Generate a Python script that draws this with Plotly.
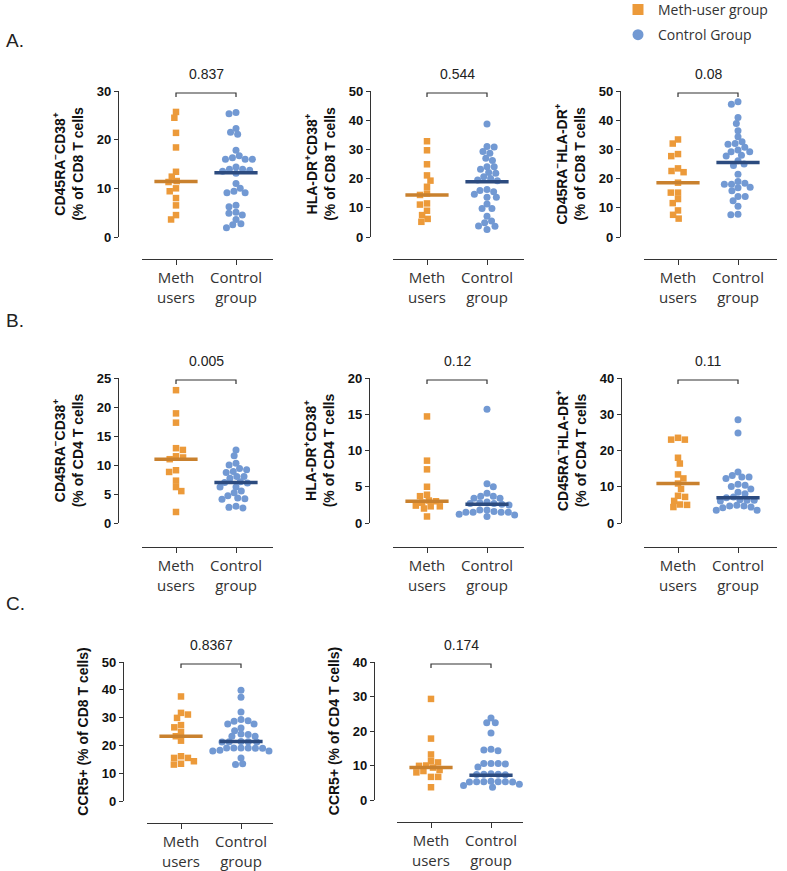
import numpy as np
import plotly.graph_objects as go

W, H = 787, 871

# ---------------- data ----------------
categories = ["Meth<br>users", "Control<br>group"]
legend_names = ["Meth-user group", "Control Group"]

a1_meth = [25.7, 24.5, 21.4, 18.4, 13.4, 12.4, 11.5, 11.3, 10.0, 9.4, 8.0, 6.5, 4.5, 3.6]
a1_ctrl = [25.6, 25.3, 22.3, 21.5, 21.1, 17.8, 16.7, 16.3, 16.0, 16.0, 16.0, 14.4, 13.9, 13.9,
           13.7, 13.5, 13.1, 11.0, 10.0, 9.4, 9.1, 9.1, 6.5, 6.2, 5.1, 4.9, 4.5, 3.6, 2.7, 2.5, 1.9]
a1_median = [11.4, 13.2]

a2_meth = [32.8, 29.7, 24.9, 21.1, 19.3, 17.2, 14.9, 14.4, 11.5, 11.1, 9.0, 7.5, 6.2, 5.2]
a2_ctrl = [38.7, 31.0, 30.8, 29.3, 28.7, 27.0, 26.2, 24.1, 24.1, 23.2, 22.1, 21.8, 20.6, 20.0,
           19.5, 19.3, 16.3, 15.9, 15.5, 14.6, 13.6, 13.6, 11.3, 9.8, 9.8, 7.1, 5.5, 4.9, 3.8,
           3.7, 2.6]
a2_median = [14.4, 18.9]

a3_meth = [33.4, 32.0, 28.4, 27.7, 23.5, 22.6, 22.2, 18.6, 15.2, 15.2, 13.0, 11.6, 9.1, 7.6, 6.3]
a3_ctrl = [46.3, 45.5, 40.9, 38.9, 36.4, 34.3, 32.6, 32.0, 31.8, 30.7, 29.8, 29.2, 29.2, 28.0,
           27.7, 26.1, 25.0, 24.5, 21.5, 19.0, 18.4, 18.1, 18.1, 17.0, 16.9, 15.8, 13.9, 13.9,
           12.4, 10.5, 7.8, 7.6]
a3_median = [18.6, 25.5]

b1_meth = [22.9, 18.9, 17.3, 12.9, 12.6, 11.5, 11.3, 11.0, 9.1, 8.8, 7.3, 6.2, 5.5, 1.9]
b1_ctrl = [12.6, 11.6, 10.3, 10.0, 9.4, 9.2, 8.9, 8.7, 8.0, 8.0, 7.7, 7.1, 7.0, 6.9,
           6.2, 6.2, 5.5, 5.2, 4.7, 4.3, 4.2, 4.1, 2.9, 2.7, 2.6]
b1_median = [11.0, 7.0]

b2_meth = [14.7, 8.6, 7.4, 5.0, 3.9, 3.7, 3.1, 3.0, 2.8, 2.4, 2.3, 2.3, 2.0, 0.9]
b2_ctrl = [15.7, 5.4, 5.0, 4.1, 3.7, 3.7, 3.4, 3.4, 2.9, 2.8, 2.7, 2.7, 2.6, 2.5, 1.8,
           1.8, 1.6, 1.5, 1.5, 1.5, 1.5, 1.2, 1.1, 0.9]
b2_median = [3.0, 2.6]

b3_meth = [23.5, 23.0, 23.0, 18.0, 16.4, 13.4, 12.3, 10.9, 9.4, 7.5, 7.2, 6.1, 5.1, 5.0, 4.4]
b3_ctrl = [28.5, 24.8, 14.1, 13.1, 12.7, 12.7, 12.3, 10.7, 10.4, 10.1, 9.4, 8.5, 8.1, 7.2, 7.0,
           6.4, 6.3, 6.3, 6.1, 4.9, 4.7, 4.7, 4.4, 4.2, 3.5, 3.5]
b3_median = [10.9, 7.0]

c1_meth = [37.6, 31.7, 31.1, 29.9, 27.3, 26.5, 24.8, 23.3, 21.7, 16.1, 15.5, 15.5, 14.3, 13.4, 13.1]
c1_ctrl = [39.8, 37.3, 32.0, 29.3, 28.9, 28.7, 27.7, 27.7, 26.3, 25.3, 24.1, 23.9, 23.3, 23.3,
           21.4, 21.3, 21.3, 21.2, 21.2, 19.1, 19.1, 19.1, 19.1, 19.0, 19.0, 18.3, 18.0, 18.0,
           17.3, 15.5, 13.4, 13.1]
c1_median = [23.3, 21.4]

c2_meth = [29.3, 17.8, 13.2, 11.3, 10.9, 10.0, 9.9, 9.4, 8.7, 8.4, 8.0, 6.7, 6.7, 3.7]
c2_ctrl = [23.8, 22.4, 22.4, 19.4, 14.7, 14.5, 14.3, 10.6, 10.6, 10.6, 10.4, 9.6, 7.6, 7.5,
           7.5, 7.4, 7.3, 5.4, 5.3, 5.3, 5.3, 5.2, 5.2, 5.3, 4.6, 4.2, 3.7]
c2_median = [9.4, 7.2]

p_values = ["0.837", "0.544", "0.08", "0.005", "0.12", "0.11", "0.8367", "0.174"]
y_max = [30, 50, 50, 25, 20, 40, 50, 40]
y_dtick = [10, 10, 10, 5, 5, 10, 10, 10]
y_titles = [
    "CD45RA<sup>−</sup>CD38<sup>+</sup><br>(% of CD8 T cells",
    "HLA-DR<sup>+</sup>CD38<sup>+</sup><br>(% of CD8 T cells",
    "CD45RA<sup>−</sup>HLA-DR<sup>+</sup><br>(% of CD8 T cells",
    "CD45RA<sup>−</sup>CD38<sup>+</sup><br>(% of CD4 T cells",
    "HLA-DR<sup>+</sup>CD38<sup>+</sup><br>(% of CD4 T cells",
    "CD45RA<sup>−</sup>HLA-DR<sup>+</sup><br>(% of CD4 T cells",
    "CCR5+ (% of CD8 T cells)",
    "CCR5+ (% of CD4 T cells)",
]
section_labels = ["A.", "B.", "C."]

meth_sets = [a1_meth, a2_meth, a3_meth, b1_meth, b2_meth, b3_meth, c1_meth, c2_meth]
ctrl_sets = [a1_ctrl, a2_ctrl, a3_ctrl, b1_ctrl, b2_ctrl, b3_ctrl, c1_ctrl, c2_ctrl]
medians = [a1_median, a2_median, a3_median, b1_median, b2_median, b3_median, c1_median, c2_median]

# ---------------- layout geometry (pixels) ----------------
# (y-axis x, y of value 0, y of top value, x-axis left, x-axis right, x-axis y)
geom = [
    (118, 237, 91, 142, 273, 259),
    (370, 237, 91, 393, 524, 259),
    (620, 237, 91, 644, 777, 259),
    (118, 523, 378, 142, 273, 547),
    (369, 523, 378, 393, 524, 547),
    (621, 523, 378, 644, 777, 547),
    (123, 801, 662, 147, 273, 823),
    (374, 800, 662, 397, 523, 822),
]
section_y = [40, 320, 603]
CAT_PX = 60.0      # pixels between the two categories
LEFT_PAD = 34.0    # pixels from x-axis start to first category
SX, SY = 7.2, 6.0  # swarm spacing (horizontal, vertical) in px

ORANGE = "#EC9A3A"
ORANGE_DARK = "#C9812E"
BLUE = "#7299D3"
BLUE_DARK = "#2C4B7F"
AXIS = "#333333"


def swarm(values, ppu_y, ppu_x):
    vals = np.asarray(values, float)
    order = np.argsort(-vals, kind="stable")
    placed = []
    xs = np.zeros(len(vals))

    def clash(c, y):
        for px, py in placed:
            if ((c - px) / SX) ** 2 + ((y - py) / SY) ** 2 < 1 - 1e-6:
                return True
        return False

    for n, i in enumerate(order):
        y = vals[i] * ppu_y
        cands = [0.0]
        for (px, py) in placed:
            dy = abs(py - y)
            if dy < SY:
                dx = SX * np.sqrt(1 - (dy / SY) ** 2)
                cands += [px - dx, px + dx]
        sign = 1 if n % 2 == 0 else -1
        best = 0.0
        for c in sorted(cands, key=lambda c: (round(abs(c), 6), -sign * c)):
            if not clash(c, y):
                best = c
                break
        placed.append((best, y))
        xs[i] = best / ppu_x
    return xs


fig = go.Figure()
layout = dict(
    width=W, height=H, margin=dict(l=0, r=0, t=0, b=0, autoexpand=False),
    paper_bgcolor="white", plot_bgcolor="white",
    showlegend=True,
)
annotations = []

for k in range(8):
    idx = k + 1
    xname = "x" if idx == 1 else f"x{idx}"
    yname = "y" if idx == 1 else f"y{idx}"
    xkey = "xaxis" if idx == 1 else f"xaxis{idx}"
    ykey = "yaxis" if idx == 1 else f"yaxis{idx}"
    yx, y0, yt, xl, xr, xay = geom[k]
    ymax = y_max[k]
    ppu_y = (y0 - yt) / ymax
    left = -LEFT_PAD / CAT_PX
    right = left + (xr - xl) / CAT_PX

    for g, (vals, color, sym, size) in enumerate([
        (meth_sets[k], ORANGE, "square", 6.5),
        (ctrl_sets[k], BLUE, "circle", 7),
    ]):
        off = swarm(vals, ppu_y, CAT_PX)
        fig.add_trace(go.Scatter(
            x=g + off, y=vals, mode="markers", xaxis=xname, yaxis=yname,
            marker=dict(color=color, symbol=sym, size=size, line=dict(width=0)),
            showlegend=False, cliponaxis=False, hoverinfo="y",
        ))
    for g, col in enumerate([ORANGE_DARK, BLUE_DARK]):
        m = medians[k][g]
        fig.add_trace(go.Scatter(
            x=[g - 0.36, g + 0.36], y=[m, m], mode="lines", xaxis=xname, yaxis=yname,
            line=dict(color=col, width=3.5), showlegend=False, hoverinfo="skip",
        ))
    # significance bracket
    yb = ymax - 2.0 / ppu_y
    tick = 4.0 / ppu_y
    fig.add_trace(go.Scatter(
        x=[0, 0, 1, 1], y=[yb - tick, yb, yb, yb - tick], mode="lines",
        xaxis=xname, yaxis=yname, line=dict(color=AXIS, width=1.2),
        showlegend=False, hoverinfo="skip", cliponaxis=False,
    ))
    annotations.append(dict(
        x=0.5, y=yb, xref=xname, yref=yname, text=p_values[k], showarrow=False,
        yanchor="bottom", yshift=9,
        font=dict(family="Liberation Sans", size=14, color="#222222"),
    ))

    layout[xkey] = dict(
        domain=[xl / W, xr / W], anchor="free", position=1 - xay / H,
        range=[left, right], tickvals=[0, 1], ticktext=categories,
        showline=True, linecolor=AXIS, linewidth=1.2,
        ticks="outside", ticklen=5, tickcolor=AXIS, tickwidth=1.2,
        showgrid=False, zeroline=False, fixedrange=True, automargin=False,
        tickfont=dict(family="Open Sans", size=15, color="#333333"),
    )
    layout[ykey] = dict(
        domain=[1 - y0 / H, 1 - yt / H], anchor="free", position=yx / W,
        range=[0, ymax], dtick=y_dtick[k], tick0=0,
        showline=True, linecolor=AXIS, linewidth=1.2,
        ticks="outside", ticklen=4, tickcolor=AXIS, tickwidth=1.2,
        showgrid=False, zeroline=False, fixedrange=True,
        tickfont=dict(family="Liberation Sans", size=13, color="#111111", weight="bold"),
        title=dict(text=y_titles[k], standoff=8,
                   font=dict(family="Liberation Sans", size=14, color="#111111", weight="bold")),
        automargin=False,
    )

for lab, sy in zip(section_labels, section_y):
    annotations.append(dict(
        x=4 / W, y=1 - sy / H, xref="paper", yref="paper", text=lab, showarrow=False,
        xanchor="left", yanchor="middle",
        font=dict(family="Liberation Sans", size=19, color="#222222"),
    ))

# legend entries
for name, color, sym, grp in [(legend_names[0], ORANGE, "square", "m"),
                              (legend_names[1], BLUE, "circle", "c")]:
    fig.add_trace(go.Scatter(
        x=[None], y=[None], mode="markers", name=name, legendgroup=grp,
        marker=dict(color=color, symbol=sym, size=11), showlegend=True,
    ))

layout["legend"] = dict(
    x=618 / W, y=1.007, xanchor="left", yanchor="top",
    font=dict(family="Open Sans", size=14, color="#333333"),
    bgcolor="rgba(0,0,0,0)", tracegroupgap=4, itemclick=False, itemdoubleclick=False,
)
layout["annotations"] = annotations
fig.update_layout(**layout)

fig.write_html(
    "out.html",
    config={"displayModeBar": False},
    post_script="document.body.style.margin='0';document.body.style.overflow='hidden';",
)
